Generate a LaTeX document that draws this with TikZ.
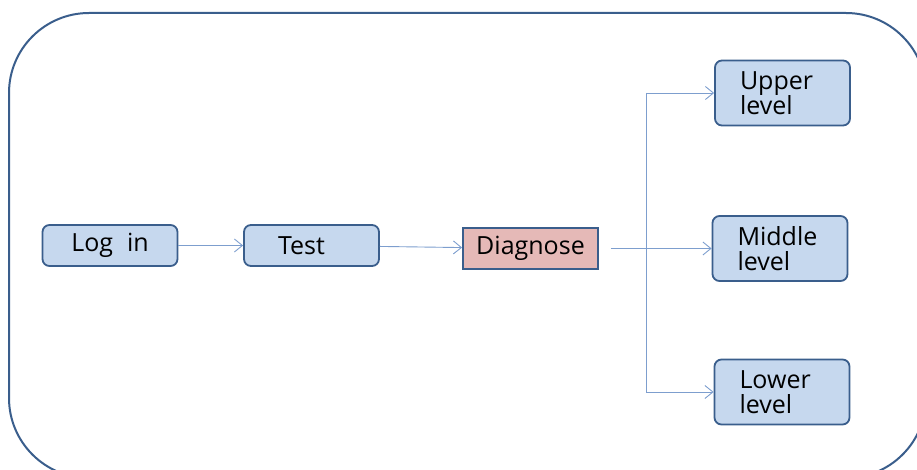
\documentclass[tikz,border=0pt]{standalone}
\usepackage{fontspec}
\setmainfont{Open Sans}
\usetikzlibrary{arrows.meta}

\definecolor{boxblue}{RGB}{198,216,238}
\definecolor{boxpink}{RGB}{229,185,183}
\definecolor{edgeblue}{RGB}{58,94,140}
\definecolor{linkblue}{RGB}{125,158,206}

\begin{document}
\begin{tikzpicture}[
    x=1pt, y=-1pt,
    box/.style={
        draw=edgeblue,
        line width=1.8pt,
        fill=boxblue,
        rounded corners=7pt,
        minimum width=135pt,
        minimum height=41pt,
        inner sep=0pt,
        font=\fontsize{25}{25}\selectfont
    },
    levelbox/.style={
        box,
        minimum height=65pt,
        text width=85pt,
        inner xsep=25pt,
        align=left
    },
    arr/.style={
        -{Straight Barb[length=8pt,width=13pt]},
        line width=0.9pt,
        draw=linkblue
    },
    link/.style={
        line width=0.9pt,
        draw=linkblue
    }
]

    \useasboundingbox (0,0) rectangle (917,470);

    % outer frame, cut off at the page edge
    \begin{scope}
        \clip (0,0) rectangle (917,470);
        \draw[edgeblue, line width=2pt, rounded corners=80pt]
            (9,13) rectangle (926,478);
    \end{scope}

    \node[box] (login) at (110,245.5) {\raisebox{-2pt}{Log\hspace{0.3em} in}};
    \node[box] (test) at (311.5,245.5) {\hspace*{-20pt}\raisebox{-1pt}{Test}};
    \node[box, fill=boxpink, rounded corners=0pt] (diagnose) at (530.5,248.5) {\raisebox{-1pt}{Diagnose}};

    \node[levelbox] (upper) at (782.5,93) {Upper\\level};
    \node[levelbox] (middle) at (780,248.5) {Middle\\level};
    \node[levelbox] (lower) at (782,392) {Lower\\level};

    \draw[arr] (login) -- (test);
    \draw[arr] (test) -- (diagnose);
    \draw[arr] ([xshift=12pt]diagnose.east) -- (middle);

    % branch to the upper and lower level
    \coordinate (branch) at (646,248.5);
    \draw[link] (branch |- upper) -- (branch |- lower);
    \draw[arr] (branch |- upper) -- (upper);
    \draw[arr] (branch |- lower) -- (lower);

\end{tikzpicture}
\end{document}
